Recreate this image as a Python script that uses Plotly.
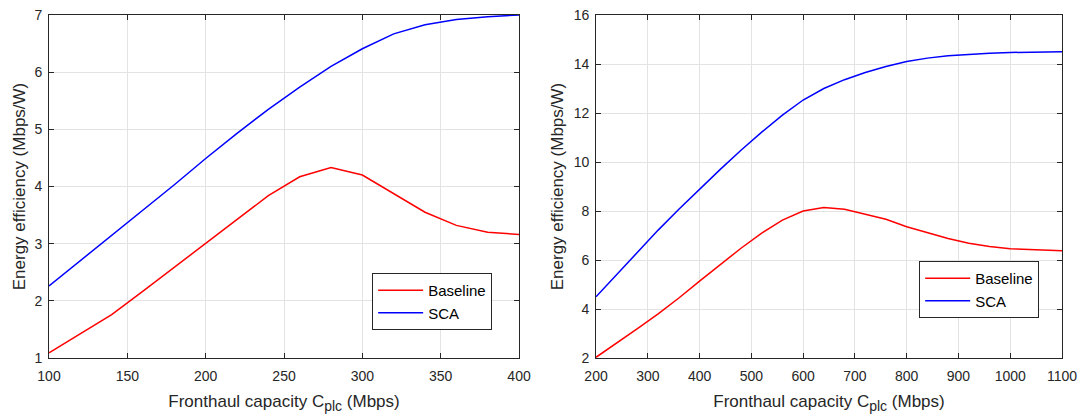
import plotly.graph_objects as go
from plotly.subplots import make_subplots

# Left panel data
x_left = [100, 120, 140, 160, 180, 200, 220, 240, 260, 280, 300, 320, 340, 360, 380, 400]
baseline_left = [1.09, 1.42, 1.76, 2.17, 2.59, 3.01, 3.43, 3.84, 4.17, 4.33, 4.20, 3.87, 3.55, 3.32, 3.20, 3.16]
sca_left = [2.26, 2.70, 3.14, 3.58, 4.03, 4.49, 4.93, 5.35, 5.74, 6.10, 6.41, 6.67, 6.83, 6.92, 6.97, 7.00]

# Right panel data
x_right = [200, 240, 280, 320, 360, 400, 440, 480, 520, 560, 600, 640, 680, 720, 760, 800,
           840, 880, 920, 960, 1000, 1040, 1080, 1100]
baseline_right = [2.03, 2.60, 3.20, 3.80, 4.45, 5.14, 5.80, 6.48, 7.10, 7.63, 8.00, 8.14, 8.07, 7.87,
                  7.66, 7.36, 7.12, 6.88, 6.68, 6.55, 6.46, 6.42, 6.39, 6.38]
sca_right = [4.50, 5.42, 6.33, 7.22, 8.07, 8.89, 9.70, 10.48, 11.22, 11.91, 12.53, 13.00, 13.36, 13.65,
             13.90, 14.10, 14.24, 14.34, 14.40, 14.44, 14.47, 14.49, 14.50, 14.50]

left_xticks = [100, 150, 200, 250, 300, 350, 400]
left_yticks = [1, 2, 3, 4, 5, 6, 7]
right_xticks = [200, 300, 400, 500, 600, 700, 800, 900, 1000, 1100]
right_yticks = [2, 4, 6, 8, 10, 12, 14, 16]

x_title = "Fronthaul capacity C<sub><span style='font-size:14px'>plc</span></sub> (Mbps)"
y_title = "Energy efficiency (Mbps/W)"

FONT = "Liberation Sans, Arial"
TXT = "#262626"

fig = make_subplots(rows=1, cols=2)

fig.add_trace(go.Scatter(x=x_left, y=baseline_left, mode="lines", name="Baseline",
                         line=dict(color="#ff0000", width=1.5), legend="legend"), row=1, col=1)
fig.add_trace(go.Scatter(x=x_left, y=sca_left, mode="lines", name="SCA",
                         line=dict(color="#0000ff", width=1.5), legend="legend"), row=1, col=1)
fig.add_trace(go.Scatter(x=x_right, y=baseline_right, mode="lines", name="Baseline",
                         line=dict(color="#ff0000", width=1.5), legend="legend2"), row=1, col=2)
fig.add_trace(go.Scatter(x=x_right, y=sca_right, mode="lines", name="SCA",
                         line=dict(color="#0000ff", width=1.5), legend="legend2"), row=1, col=2)

axis_common = dict(
    showgrid=True, gridcolor="#e3e3e3", gridwidth=1,
    showline=True, linecolor=TXT, linewidth=1, mirror="ticks",
    ticks="inside", ticklen=5, tickcolor=TXT,
    tickfont=dict(family=FONT, size=14, color=TXT),
    zeroline=False, automargin=False,
)

title_font = dict(family=FONT, size=17, color=TXT)

fig.update_xaxes(**axis_common, ticklabelstandoff=5)
fig.update_yaxes(**axis_common, ticklabelstandoff=3)

fig.update_xaxes(range=[100, 400], tickvals=left_xticks, domain=[0, 0.464],
                 title=dict(text=x_title, standoff=12, font=title_font), row=1, col=1)
fig.update_xaxes(range=[200, 1100], tickvals=right_xticks, domain=[0.540, 1],
                 title=dict(text=x_title, standoff=12, font=title_font), row=1, col=2)
fig.update_yaxes(range=[1, 7], tickvals=left_yticks,
                 title=dict(text=y_title, standoff=4, font=title_font), row=1, col=1)
fig.update_yaxes(range=[2, 16], tickvals=right_yticks,
                 title=dict(text=y_title, standoff=5, font=title_font), row=1, col=2)

legend_common = dict(
    bgcolor="white", bordercolor=TXT, borderwidth=1,
    font=dict(family=FONT, size=15, color="#000000"),
    xanchor="left", yanchor="top", tracegroupgap=0, itemwidth=45,
)

fig.update_layout(
    width=1083, height=416,
    margin=dict(l=49, r=21, t=15, b=58),
    paper_bgcolor="white", plot_bgcolor="white",
    showlegend=True,
    legend=dict(x=0.319, y=0.248, **legend_common),
    legend2=dict(x=0.859, y=0.283, **legend_common),
)

fig.write_html("out.html")
